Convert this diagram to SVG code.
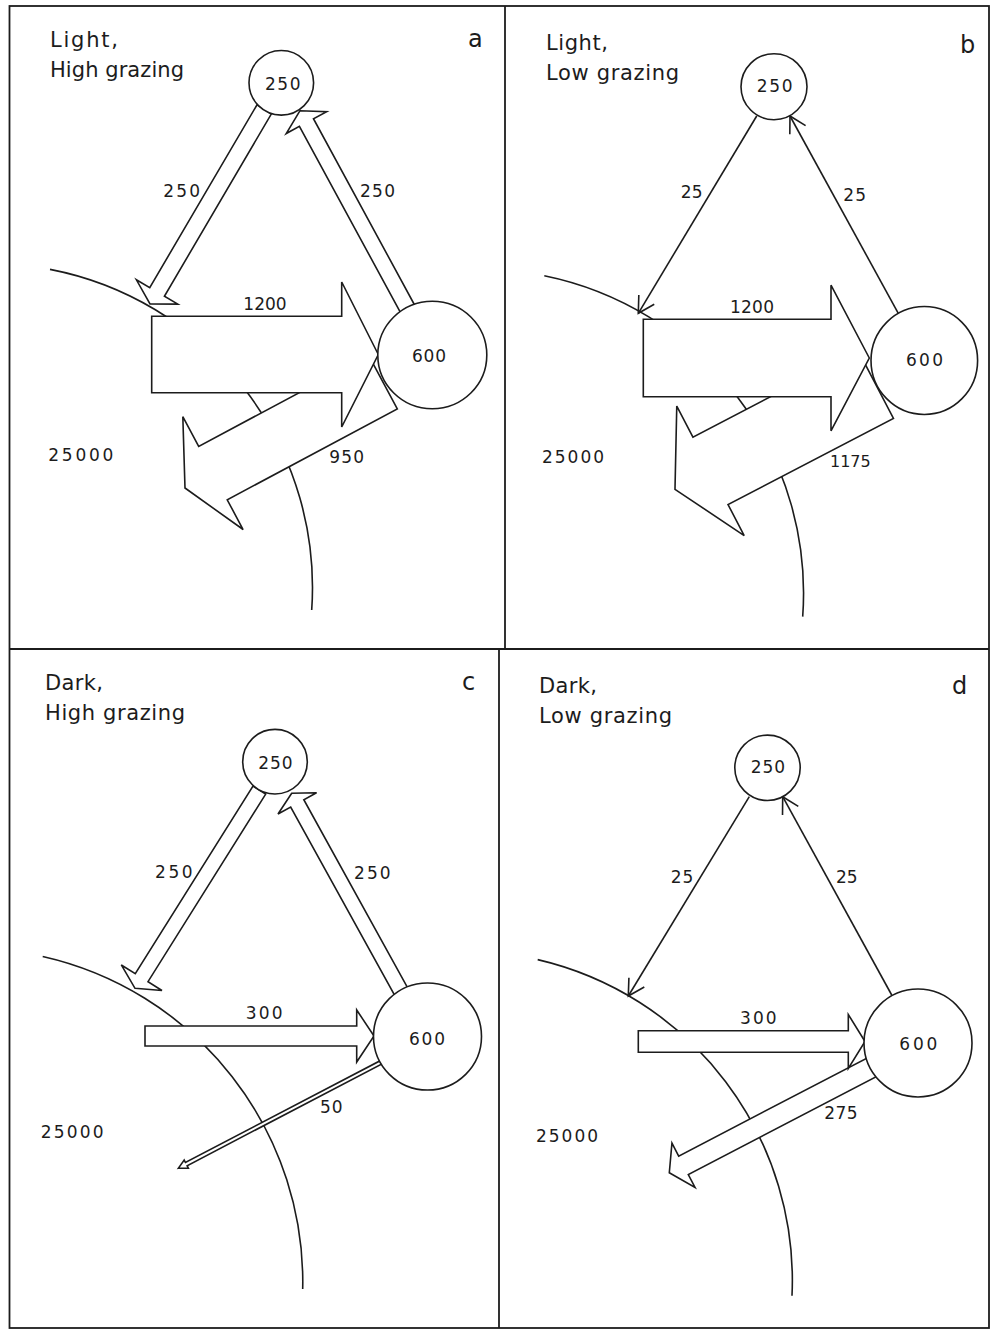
<svg xmlns="http://www.w3.org/2000/svg" width="992" height="1332" viewBox="0 0 992 1332">
<defs>
<style>
.fr{fill:none;stroke:#1c1c1c;stroke-width:1.8}
.ln{fill:none;stroke:#1c1c1c;stroke-width:1.6}
.ar{fill:#fff;stroke:#1c1c1c;stroke-width:1.6;stroke-linejoin:miter}
.nd{fill:#fff;stroke:#1c1c1c;stroke-width:1.6}
.t{font-family:"DejaVu Sans","Liberation Sans",sans-serif;fill:#1c1c1c}
.ti{font-size:21px}
.n{font-size:17px}
.pl{font-size:24px}
</style>
<marker id="open" markerUnits="userSpaceOnUse" markerWidth="24" markerHeight="24" viewBox="-20 -12 24 24" refX="0" refY="0" orient="auto">
<path d="M-16,-9 L0,0 L-16,9" fill="none" stroke="#1c1c1c" stroke-width="1.6"/>
</marker>
</defs>
<rect width="992" height="1332" fill="#fff"/>
<g id="frame">
<rect class="fr" x="9.5" y="6" width="979.5" height="1322"/>
<line class="fr" x1="9.5" y1="649" x2="989" y2="649"/>
<line class="fr" x1="505" y1="6" x2="505" y2="649"/>
<line class="fr" x1="499" y1="649" x2="499" y2="1328"/>
</g>
<g id="titles">
<text class="t ti" x="50" y="47" textLength="68" lengthAdjust="spacing">Light,</text>
<text class="t ti" x="50" y="77" textLength="134" lengthAdjust="spacing">High grazing</text>
<text class="t pl" x="468" y="47">a</text>
<text class="t ti" x="546" y="50" textLength="62" lengthAdjust="spacing">Light,</text>
<text class="t ti" x="546" y="80" textLength="133" lengthAdjust="spacing">Low grazing</text>
<text class="t pl" x="960" y="53">b</text>
<text class="t ti" x="45" y="690" textLength="58" lengthAdjust="spacing">Dark,</text>
<text class="t ti" x="45" y="720" textLength="140" lengthAdjust="spacing">High grazing</text>
<text class="t pl" x="462" y="690">c</text>
<text class="t ti" x="539" y="693" textLength="58" lengthAdjust="spacing">Dark,</text>
<text class="t ti" x="539" y="723" textLength="133" lengthAdjust="spacing">Low grazing</text>
<text class="t pl" x="952" y="694">d</text>
</g>
<g id="a-pool">
<path class="ln" d="M50,269.4 A324,324 0 0 1 311.7,610"/>
<text class="t n" x="48.3" y="461" textLength="65" lengthAdjust="spacing">25000</text>
</g>
<g id="b-pool">
<path class="ln" d="M544.3,275.7 A324,324 0 0 1 802.7,616.6"/>
<text class="t n" x="542" y="463" textLength="62" lengthAdjust="spacing">25000</text>
</g>
<g id="c-pool">
<path class="ln" d="M42.7,956.5 A333.6,333.6 0 0 1 302.7,1289"/>
<text class="t n" x="40.7" y="1138" textLength="63" lengthAdjust="spacing">25000</text>
</g>
<g id="d-pool">
<path class="ln" d="M537.7,959.6 A329.4,329.4 0 0 1 792,1295.7"/>
<text class="t n" x="536" y="1142" textLength="62" lengthAdjust="spacing">25000</text>
</g>
<g id="connectors">
<polygon class="ar" transform="translate(185 488) rotate(151.9)" points="0,0 -31.7,-64 -31.7,-30.3 -224.5,-30.3 -224.5,30.3 -31.7,30.3 -31.7,64"/>
<polygon class="ar" transform="translate(378.3 354.5)" points="0,0 -36.6,-72.5 -36.6,-38.2 -226.6,-38.2 -226.6,38.2 -36.6,38.2 -36.6,72.5"/>
<polygon class="ar" transform="translate(150 304) rotate(120.4)" points="0,0 -14,-24 -14,-8.5 -226,-8.5 -226,8.5 -14,8.5 -14,24"/>
<polygon class="ar" transform="translate(300 110.7) rotate(-118.5)" points="0,0 -13.5,-23 -13.5,-8 -226,-8 -226,8 -13.5,8 -13.5,23"/>
<text class="t n" x="163.3" y="196.7" textLength="36.7" lengthAdjust="spacing">250</text>
<text class="t n" x="360" y="197" textLength="35" lengthAdjust="spacing">250</text>
<text class="t n" x="243.3" y="310" textLength="43.4" lengthAdjust="spacing">1200</text>
<text class="t n" x="329.3" y="462.7" textLength="34.7" lengthAdjust="spacing">950</text>

<polygon class="ar" transform="translate(675 489.3) rotate(152.5)" points="0,0 -40,-73 -40,-38 -226.5,-38 -226.5,38 -40,38 -40,73"/>
<polygon class="ar" transform="translate(869.3 358)" points="0,0 -38.3,-72.8 -38.3,-38.8 -226,-38.8 -226,38.8 -38.3,38.8 -38.3,72.8"/>
<line class="ln" x1="756.7" y1="116" x2="638.3" y2="313.3" marker-end="url(#open)"/>
<line class="ln" x1="898.3" y1="313.3" x2="790" y2="116" marker-end="url(#open)"/>
<text class="t n" x="680.7" y="198.3" textLength="22" lengthAdjust="spacing">25</text>
<text class="t n" x="843.3" y="201" textLength="22.7" lengthAdjust="spacing">25</text>
<text class="t n" x="730" y="312.7" textLength="44" lengthAdjust="spacing">1200</text>
<text class="t n" x="830" y="466.7" style="font-size:16px">1175</text>

<polygon class="ar" transform="translate(178.3 1168.3) rotate(152.4)" points="0,0 -9,-4.5 -9,-1.8 -231,-1.8 -231,1.8 -9,1.8 -9,4.5"/>
<polygon class="ar" transform="translate(374 1036)" points="0,0 -17.3,-26 -17.3,-10 -229,-10 -229,10 -17.3,10 -17.3,26"/>
<polygon class="ar" transform="translate(135 988.3) rotate(122.1)" points="0,0 -12.5,-24 -12.5,-7.5 -234,-7.5 -234,7.5 -12.5,7.5 -12.5,24"/>
<polygon class="ar" transform="translate(291.7 793.3) rotate(-118.9)" points="0,0 -11.5,-22 -11.5,-7.5 -227,-7.5 -227,7.5 -11.5,7.5 -11.5,22"/>
<text class="t n" x="155" y="878.3" textLength="37.7" lengthAdjust="spacing">250</text>
<text class="t n" x="354" y="879.3" textLength="36.7" lengthAdjust="spacing">250</text>
<text class="t n" x="245.7" y="1019.3" textLength="37" lengthAdjust="spacing">300</text>
<text class="t n" x="320" y="1113.3" textLength="22.7" lengthAdjust="spacing">50</text>

<polygon class="ar" transform="translate(669.3 1172.7) rotate(152.5)" points="0,0 -16,-25 -16,-10.4 -229,-10.4 -229,10.4 -16,10.4 -16,25"/>
<polygon class="ar" transform="translate(865 1041.5)" points="0,0 -16.7,-27 -16.7,-10.8 -226.7,-10.8 -226.7,10.8 -16.7,10.8 -16.7,27"/>
<line class="ln" x1="749.3" y1="796.7" x2="628.3" y2="996" marker-end="url(#open)"/>
<line class="ln" x1="891.7" y1="995" x2="782.7" y2="796.7" marker-end="url(#open)"/>
<text class="t n" x="670.7" y="882.7" textLength="22.6" lengthAdjust="spacing">25</text>
<text class="t n" x="836" y="882.6" textLength="21.7" lengthAdjust="spacing">25</text>
<text class="t n" x="740" y="1024" textLength="36.7" lengthAdjust="spacing">300</text>
<text class="t n" x="824.3" y="1119" textLength="33.4" lengthAdjust="spacing">275</text>
</g>
<g id="a-n250">
<circle class="nd" cx="281.3" cy="82.8" r="32.3"/>
<text class="t n" x="265" y="89.5" textLength="35.5" lengthAdjust="spacing">250</text>
</g>
<g id="a-n600">
<ellipse class="nd" cx="432.3" cy="355" rx="54.5" ry="53.8"/>
<text class="t n" x="412" y="362" textLength="34" lengthAdjust="spacing">600</text>
</g>
<g id="b-n250">
<circle class="nd" cx="774" cy="86.7" r="33"/>
<text class="t n" x="756.7" y="91.7" textLength="36" lengthAdjust="spacing">250</text>
</g>
<g id="b-n600">
<ellipse class="nd" cx="924.3" cy="360.5" rx="53.3" ry="54"/>
<text class="t n" x="906" y="366" textLength="37" lengthAdjust="spacing">600</text>
</g>
<g id="c-n250">
<circle class="nd" cx="275" cy="761.7" r="32.3"/>
<text class="t n" x="258.3" y="769.3" textLength="34.4" lengthAdjust="spacing">250</text>
</g>
<g id="c-n600">
<ellipse class="nd" cx="427.5" cy="1036.5" rx="54" ry="53.5"/>
<text class="t n" x="409" y="1044.5" textLength="36" lengthAdjust="spacing">600</text>
</g>
<g id="d-n250">
<circle class="nd" cx="767.5" cy="767.8" r="32.7"/>
<text class="t n" x="750.7" y="773.3" textLength="34.3" lengthAdjust="spacing">250</text>
</g>
<g id="d-n600">
<ellipse class="nd" cx="918" cy="1043" rx="54" ry="54"/>
<text class="t n" x="899.3" y="1049.5" textLength="38" lengthAdjust="spacing">600</text>
</g>
</svg>
